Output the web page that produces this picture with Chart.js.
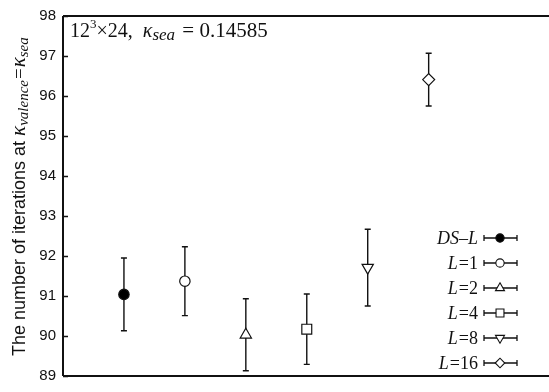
<!DOCTYPE html>
<html>
<head>
<meta charset="utf-8">
<script src="https://cdn.jsdelivr.net/npm/chart.js@4/dist/chart.umd.min.js"></script>
<style>
  html, body { margin: 0; padding: 0; background: #fff; }
  #wrap { width: 549px; height: 392px; position: relative; }
</style>
</head>
<body>
<div id="wrap"><canvas id="c" width="549" height="392"></canvas></div>
<script>
// Iteration counts at kappa_valence = kappa_sea for each solver setting
const seriesLabels = ['DS–L', 'L=1', 'L=2', 'L=4', 'L=8', 'L=16'];
const positions    = [1, 2, 3, 4, 5, 6];
const iterations   = [91.04, 91.37, 90.03, 90.17, 91.71, 96.41];
const errors       = [0.91, 0.86, 0.90, 0.88, 0.96, 0.66];
const yTickValues  = [89, 90, 91, 92, 93, 94, 95, 96, 97, 98];

const markerStyles = [
  { pointStyle: 'circle',   radius: 5.2, fill: '#000' },
  { pointStyle: 'circle',   radius: 5.2, fill: '#fff' },
  { pointStyle: 'triangle', radius: 6.5, fill: '#fff', rotation: 0 },
  { pointStyle: 'rect',     radius: 7,   fill: '#fff' },
  { pointStyle: 'triangle', radius: 6.5, fill: '#fff', rotation: 180 },
  { pointStyle: 'rectRot',  radius: 6,   fill: '#fff' }
];

const SANS = '"Liberation Sans", Arial, sans-serif';
const SERIF = '"Liberation Serif", "Times New Roman", serif';
const INK = '#111';

const datasets = seriesLabels.map((label, i) => ({
  label,
  data: [{ x: positions[i], y: iterations[i] }],
  pointStyle: markerStyles[i].pointStyle,
  pointRadius: markerStyles[i].radius,
  pointRotation: markerStyles[i].rotation || 0,
  pointBackgroundColor: markerStyles[i].fill,
  pointBorderColor: INK,
  pointBorderWidth: 1.2,
  showLine: false
}));

// Vertical error bars with caps, drawn beneath the markers
const errorBars = {
  id: 'errorBars',
  beforeDatasetsDraw(chart) {
    const { ctx, scales: { x, y } } = chart;
    ctx.save();
    ctx.strokeStyle = INK;
    ctx.lineWidth = 1.4;
    positions.forEach((p, i) => {
      const px = x.getPixelForValue(p);
      const top = y.getPixelForValue(iterations[i] + errors[i]);
      const bot = y.getPixelForValue(iterations[i] - errors[i]);
      ctx.beginPath();
      ctx.moveTo(px, top); ctx.lineTo(px, bot);
      ctx.moveTo(px - 3, top); ctx.lineTo(px + 3, top);
      ctx.moveTo(px - 3, bot); ctx.lineTo(px + 3, bot);
      ctx.stroke();
    });
    ctx.restore();
  }
};

// Draws a run of text pieces with per-piece font and baseline shift
function drawRuns(ctx, runs, x, y) {
  let cx = x;
  runs.forEach(r => {
    ctx.font = r.font;
    ctx.fillText(r.text, cx, y + (r.dy || 0));
    cx += ctx.measureText(r.text).width + (r.gap || 0);
  });
  return cx - x;
}
function measureRuns(ctx, runs) {
  let w = 0;
  runs.forEach(r => { ctx.font = r.font; w += ctx.measureText(r.text).width + (r.gap || 0); });
  return w;
}

const frameAndText = {
  id: 'frameAndText',
  afterDraw(chart) {
    const { ctx, chartArea: a, scales: { y } } = chart;
    ctx.save();
    ctx.strokeStyle = INK;
    ctx.lineWidth = 2;
    // frame: left, top, bottom
    ctx.beginPath();
    ctx.moveTo(a.left, a.top); ctx.lineTo(549, a.top);
    ctx.moveTo(a.left, a.bottom); ctx.lineTo(549, a.bottom);
    ctx.moveTo(a.left, a.top); ctx.lineTo(a.left, a.bottom);
    ctx.stroke();
    // inward tick marks
    ctx.lineWidth = 1.5;
    ctx.beginPath();
    yTickValues.forEach(v => {
      const py = Math.round(y.getPixelForValue(v)) + 0.5;
      ctx.moveTo(a.left, py); ctx.lineTo(a.left + 5, py);
    });
    ctx.stroke();

    ctx.fillStyle = INK;
    ctx.textBaseline = 'alphabetic';
    ctx.textAlign = 'left';

    // annotation in upper-left corner
    drawRuns(ctx, [
      { text: '12', font: `20px ${SERIF}` },
      { text: '3', font: `13px ${SERIF}`, dy: -9 },
      { text: '×24,  ', font: `20px ${SERIF}` },
      { text: 'κ', font: `italic 20px ${SERIF}` },
      { text: 'sea', font: `italic 17px ${SERIF}`, dy: 3, gap: 2 },
      { text: ' = 0.14585', font: `21px ${SERIF}` }
    ], 70, 37);

    // legend: right-aligned labels with error-bar symbols
    const legendTop = 238, rowH = 25;
    seriesLabels.forEach((lab, i) => {
      const cy = legendTop + i * rowH;
      let runs;
      if (lab.startsWith('L=')) {
        runs = [
          { text: 'L', font: `italic 18px ${SERIF}`, gap: 1 },
          { text: '=' + lab.slice(2), font: `18px ${SERIF}` }
        ];
      } else {
        runs = [{ text: lab, font: `italic 18px ${SERIF}` }];
      }
      const w = measureRuns(ctx, runs);
      drawRuns(ctx, runs, 478 - w, cy + 6);
      // symbol
      const sx = 500;
      ctx.strokeStyle = INK;
      ctx.lineWidth = 1.3;
      ctx.beginPath();
      ctx.moveTo(484, cy); ctx.lineTo(517, cy);
      ctx.moveTo(484, cy - 3); ctx.lineTo(484, cy + 3);
      ctx.moveTo(517, cy - 3); ctx.lineTo(517, cy + 3);
      ctx.stroke();
      const m = markerStyles[i];
      ctx.fillStyle = m.fill;
      ctx.lineWidth = 1.1;
      Chart.helpers.drawPoint(ctx, {
        pointStyle: m.pointStyle, radius: m.radius * 0.8, rotation: m.rotation || 0, borderWidth: 1.1
      }, sx, cy);
      ctx.fillStyle = INK;
    });

    // rotated y-axis title
    const titleRuns = [
      { text: 'The number of iterations at ', font: `18px ${SANS}` },
      { text: 'κ', font: `italic 21px ${SERIF}` },
      { text: 'valence', font: `italic 15px ${SERIF}`, dy: 3, gap: 1 },
      { text: '=', font: `19px ${SERIF}`, gap: 1 },
      { text: 'κ', font: `italic 21px ${SERIF}` },
      { text: 'sea', font: `italic 15px ${SERIF}`, dy: 3 }
    ];
    ctx.translate(25, 0);
    ctx.rotate(-Math.PI / 2);
    drawRuns(ctx, titleRuns, -356, 0);
    ctx.restore();
  }
};

new Chart(document.getElementById('c'), {
  type: 'scatter',
  data: { datasets },
  options: {
    responsive: false,
    animation: false,
    devicePixelRatio: 1,
    layout: { padding: { top: 10, bottom: 12, left: 0, right: 0 } },
    plugins: { legend: { display: false }, tooltip: { enabled: false } },
    scales: {
      x: {
        type: 'linear', min: 0, max: 7.84, display: false
      },
      y: {
        type: 'linear', min: 89, max: 98,
        afterFit(scale) { scale.width = 63; },
        afterBuildTicks(scale) { scale.ticks = yTickValues.map(v => ({ value: v })); },
        border: { display: false },
        grid: { display: false, drawTicks: false },
        ticks: {
          padding: 7,
          color: INK,
          font: { family: SANS, size: 15 },
          callback: v => String(v)
        }
      }
    }
  },
  plugins: [errorBars, frameAndText]
});
</script>
</body>
</html>
